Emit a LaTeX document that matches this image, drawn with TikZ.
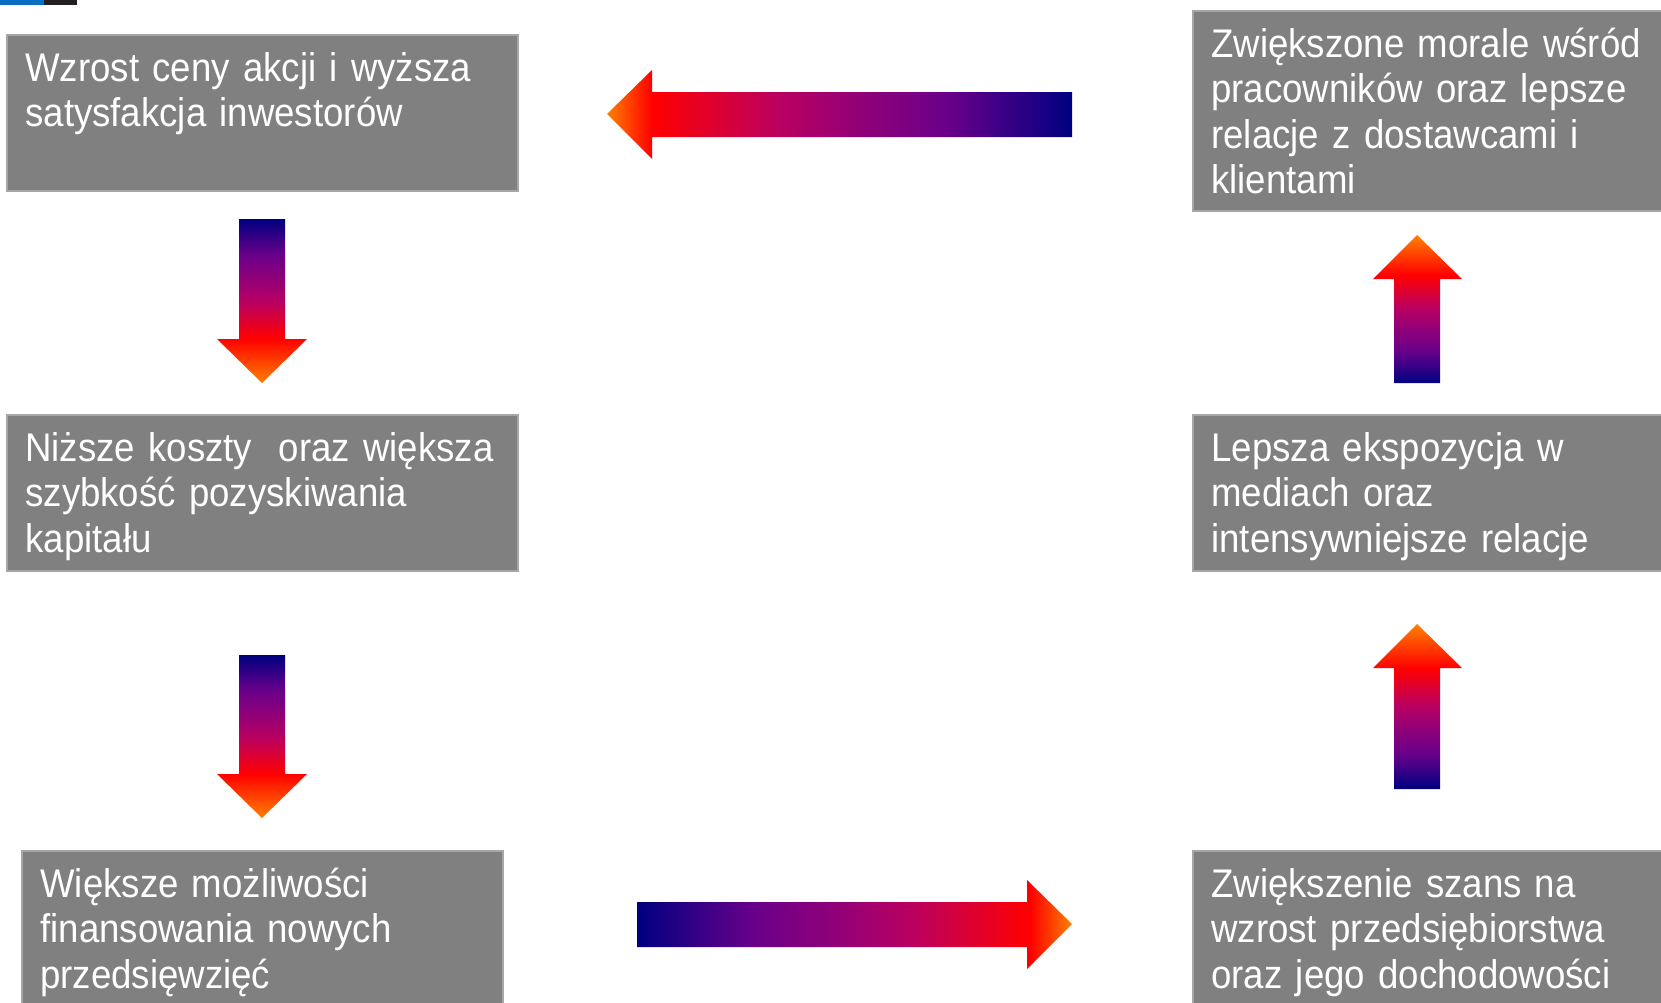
\documentclass[tikz,border=0pt]{standalone}
\usepackage{fontspec}
\setmainfont[FakeStretch=0.915]{Liberation Sans}
\usepackage{tikz}

\definecolor{boxfill}{HTML}{808080}
\definecolor{boxedge}{HTML}{A6A6A6}
\definecolor{flownavy}{HTML}{000080}
\definecolor{flowviolet}{HTML}{6A008A}
\definecolor{flowplum}{HTML}{900078}
\definecolor{flowmagenta}{HTML}{BA0060}
\definecolor{flowred}{HTML}{FF0000}
\definecolor{floworange}{HTML}{FF8000}
\definecolor{barblue}{HTML}{0A6FC2}
\definecolor{barblack}{HTML}{231F20}

\pgfdeclarehorizontalshading{flowh}{100bp}{color(0bp)=(flownavy); color(25bp)=(flownavy); color(38.6bp)=(flowviolet); color(47.6bp)=(flowplum); color(56.6bp)=(flowmagenta); color(70.2bp)=(flowred); color(75bp)=(floworange); color(100bp)=(floworange)}
\pgfdeclareverticalshading{flowv}{100bp}{color(0bp)=(flownavy); color(25bp)=(flownavy); color(36bp)=(flowviolet); color(43.2bp)=(flowplum); color(50.5bp)=(flowmagenta); color(61.5bp)=(flowred); color(75bp)=(floworange); color(100bp)=(floworange)}

\tikzset{
    box/.style={draw=boxedge, fill=boxfill, line width=1pt, anchor=north west, inner sep=0pt},
    boxtext/.style={text=white, anchor=base west, align=left, text width=300pt, inner sep=0pt,
        font=\fontsize{20pt}{22.75pt}\selectfont},
}

\begin{document}
\begin{tikzpicture}[x=0.5pt, y=-0.5pt]
            \clip (0,0) rectangle (1661,1002);
            \fill[barblue] (0,0) rectangle (44,5);
            \fill[barblack] (44,0) rectangle (77,5);
            % boxes
            \node[box, minimum width=255.5pt, minimum height=78pt] (b1) at (6,34) {};
            \node[box, minimum width=255.5pt, minimum height=78pt] (b2) at (6,414) {};
            \node[box, minimum width=240.5pt, minimum height=100pt] (b3) at (21,850) {};
            \node[box, minimum width=240pt, minimum height=100pt] (b4) at (1192,10) {};
            \node[box, minimum width=240pt, minimum height=78pt] (b5) at (1192,414) {};
            \node[box, minimum width=240pt, minimum height=100pt] (b6) at (1192,850) {};
            % texts
            \node[boxtext] (t1) at ([shift={(19,47)}]b1.north west) {Wzrost ceny akcji i wyższa\\satysfakcja inwestorów};
            \node[boxtext] (t2) at ([shift={(19,47)}]b2.north west) {Niższe koszty~ oraz większa\\szybkość pozyskiwania\\kapitału};
            \node[boxtext] (t3) at ([shift={(19,47)}]b3.north west) {Większe możliwości\\finansowania nowych\\przedsięwzięć};
            \node[boxtext] (t4) at ([shift={(19,47)}]b4.north west) {Zwiększone morale wśród\\pracowników oraz lepsze\\relacje z dostawcami i\\klientami};
            \node[boxtext] (t5) at ([shift={(19,47)}]b5.north west) {Lepsza ekspozycja w\\mediach oraz\\intensywniejsze relacje};
            \node[boxtext] (t6) at ([shift={(19,47)}]b6.north west) {Zwiększenie szans na\\wzrost przedsiębiorstwa\\oraz jego dochodowości};
            % horizontal arrows
            \shade[shading=flowh, shading angle=180] (1072,92) -- (652,92) -- (652,70) -- (607,114) -- (652,159) -- (652,137) -- (1072,137) -- cycle;
            \shade[shading=flowh] (637,902) -- (1027,902) -- (1027,880) -- (1072,924) -- (1027,969) -- (1027,947) -- (637,947) -- cycle;
            % vertical arrows
            \foreach \t/\b in {219/339, 655/774} {
                \shade[shading=flowv, shading angle=180] (239,\t) -- (285,\t) -- (285,\b) -- (307,\b) -- (262,\b+44) -- (217,\b) -- (239,\b) -- cycle;
            }
            \foreach \t/\b in {383/279, 789/668} {
                \shade[shading=flowv] (1394,\t) -- (1440,\t) -- (1440,\b) -- (1462,\b) -- (1417,\b-44) -- (1373,\b) -- (1394,\b) -- cycle;
            }
\end{tikzpicture}
\end{document}
